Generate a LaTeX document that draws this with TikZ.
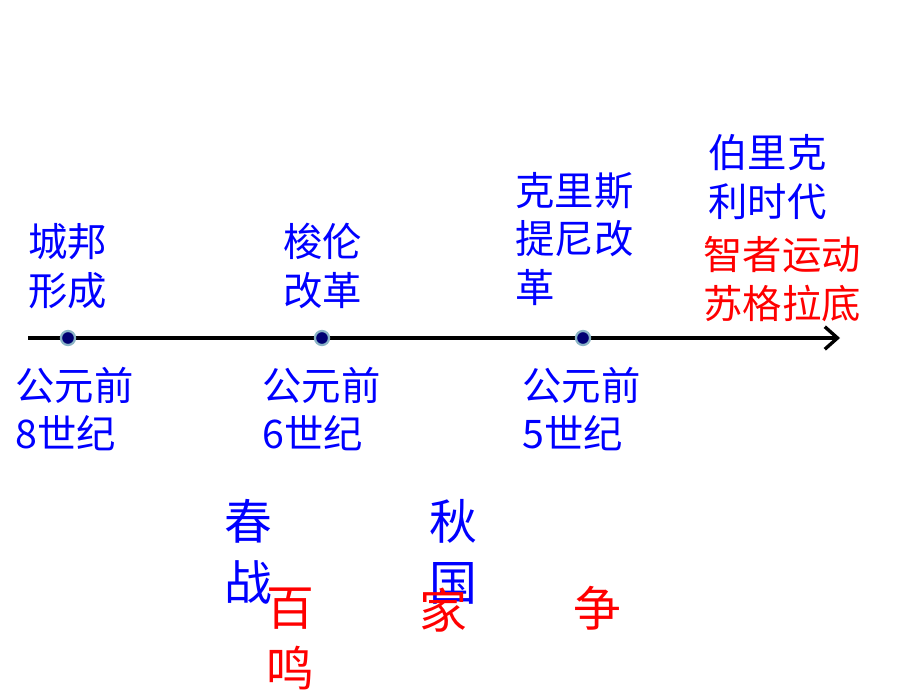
\documentclass[tikz,border=0pt]{standalone}
\usepackage{fontspec}
\setmainfont{Noto Sans CJK SC}
\usetikzlibrary{positioning,arrows.meta}

\tikzset{
  event/.style={text=blue, font=\fontsize{28}{34.5}\selectfont, align=left, inner sep=0pt, anchor=west},
  idea/.style={event, text=red},
  bigchar/.style={font=\fontsize{34}{43}\selectfont, align=center, inner sep=0pt},
  tick/.style={circle, fill=blue!45!black, draw=gray!60!cyan!80!white, line width=1.6pt, minimum size=10pt, inner sep=0pt},
}

\begin{document}
\begin{tikzpicture}[x=0.025cm, y=-0.025cm]
    \useasboundingbox (0,0) rectangle (920,690);

    % time axis
    \coordinate (start) at (28,338);
    \coordinate (stop) at (840,338);
    \draw[line width=2.4pt, -{Straight Barb[length=9pt,width=16pt,line width=2.4pt]}] (start) -- (stop);

    \node[tick] (t8) at (68,338) {};
    \node[tick] (t6) at (322,338) {};
    \node[tick] (t5) at (583,338) {};

    % above the axis
    \node[event] (city) at (28,266) {城邦\\形成};
    \node[event] (solon) at (283,266) {梭伦\\改革};
    \node[event] (cleis) at (515,239) {克里斯\\提尼改\\革};
    \node[event] (peri) at (708,177) {伯里克\\利时代};
    \node[idea] (soph) at (703,279) {智者运动\\苏格拉底};

    % below the axis
    \node[event] (d8) at (15,409) {公元前\\8世纪};
    \node[event] (d6) at (262,409) {公元前\\6世纪};
    \node[event] (d5) at (522,409) {公元前\\5世纪};

    % spring and autumn, warring states, hundred schools
    \node[bigchar, text=blue] (spring) at (248,552) {春\\战};
    \node[bigchar, text=blue] (autumn) at (453,552) {秋\\国};
    \node[bigchar, text=red] (hundred) at (290,639) {百\\鸣};
    \node[bigchar, text=red] (schools) at (443,610) {家};
    \node[bigchar, text=red] (contend) at (597,608) {争};
\end{tikzpicture}
\end{document}
